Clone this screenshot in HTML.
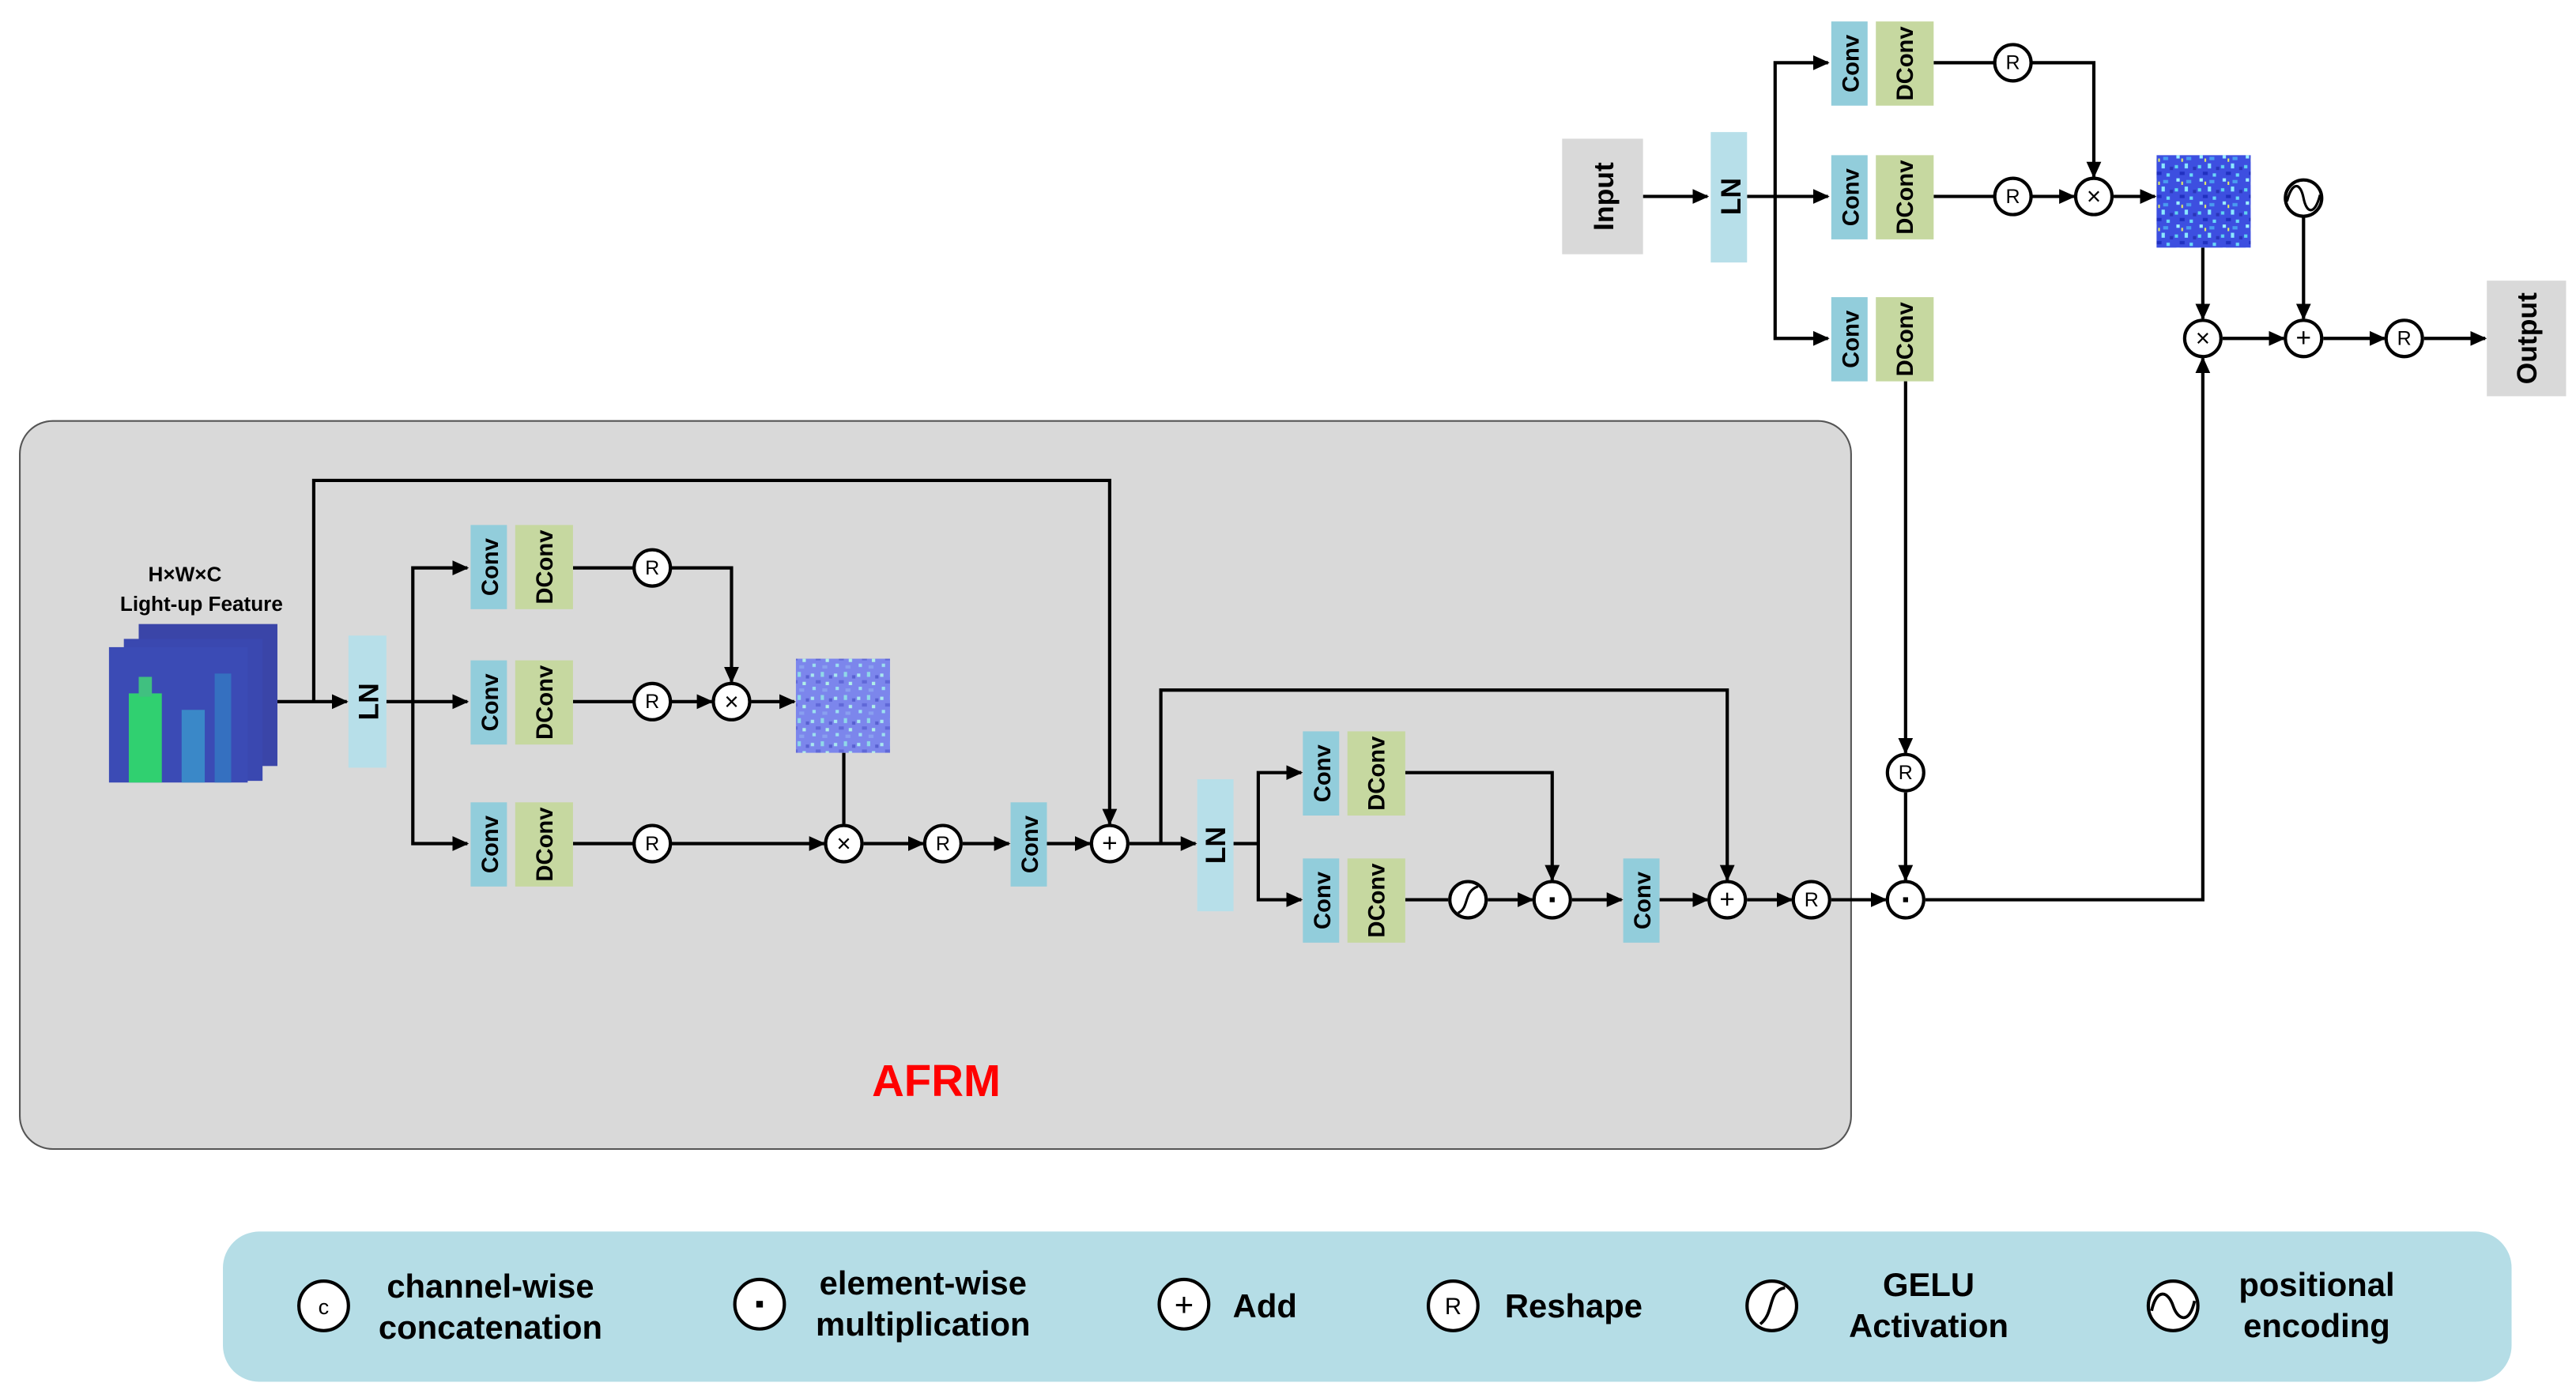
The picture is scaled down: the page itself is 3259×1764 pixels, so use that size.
<!DOCTYPE html>
<html><head><meta charset="utf-8"><style>
html,body{margin:0;padding:0;background:#fff;}
svg{display:block;}
text{font-family:"Liberation Sans",sans-serif;}
.b{font-weight:bold;}
</style></head><body>
<svg width="3259" height="1764" viewBox="0 0 1560 844.4" preserveAspectRatio="none" xmlns="http://www.w3.org/2000/svg">
<defs>
<marker id="a" markerWidth="10" markerHeight="10" refX="9" refY="5" orient="auto" markerUnits="userSpaceOnUse">
<path d="M0,0.5 L10,5 L0,9.5 Z" fill="#000"/></marker>
<pattern id="n1" width="14" height="14" patternUnits="userSpaceOnUse">
<rect width="14" height="14" fill="#3d4fe0"/>
<rect x="1" y="2" width="2" height="2" fill="#5fd3f0"/><rect x="7" y="1" width="2" height="3" fill="#8ae8ff"/>
<rect x="4" y="6" width="3" height="2" fill="#2030c0"/><rect x="10" y="7" width="2" height="2" fill="#6ad8f8"/>
<rect x="2" y="10" width="2" height="2" fill="#9bf0ff"/><rect x="8" y="11" width="3" height="2" fill="#4a9cf0"/>
<rect x="12" y="3" width="2" height="2" fill="#2a35b8"/><rect x="5" y="12" width="1" height="2" fill="#e8f060"/>
</pattern>
<pattern id="n2" width="14" height="14" patternUnits="userSpaceOnUse">
<rect width="14" height="14" fill="#7c86ec"/>
<rect x="1" y="2" width="2" height="2" fill="#a8e8f0"/><rect x="7" y="1" width="2" height="3" fill="#8fd8e8"/>
<rect x="4" y="6" width="3" height="2" fill="#6068d8"/><rect x="10" y="7" width="2" height="2" fill="#b0f0e8"/>
<rect x="2" y="10" width="2" height="2" fill="#9ce0f0"/><rect x="8" y="11" width="3" height="2" fill="#8aa0f0"/>
<rect x="12" y="3" width="2" height="2" fill="#5860d0"/>
</pattern>
<g id="cv"><rect x="0" y="0" width="22" height="51" fill="#92cddb"/><text transform="translate(16.5,25.5) rotate(-90)" text-anchor="middle" font-size="14" class="b">Conv</text></g>
<g id="dc"><rect x="0" y="0" width="35" height="51" fill="#c6d8a0"/><text transform="translate(22.5,25.5) rotate(-90)" text-anchor="middle" font-size="14" class="b">DConv</text></g>
</defs>

<rect x="12" y="255" width="1109" height="441" rx="20" fill="#d9d9d9" stroke="#555" stroke-width="1"/>
<text x="567" y="664" text-anchor="middle" font-size="27" class="b" fill="#ff0000">AFRM</text>

<g stroke="#000" stroke-width="2" fill="none">
<line x1="995" y1="119" x2="1034" y2="119" marker-end="url(#a)"/>
<line x1="1058" y1="119" x2="1107" y2="119" marker-end="url(#a)"/>
<polyline points="1075,119 1075,38 1107,38" marker-end="url(#a)"/>
<polyline points="1075,119 1075,205 1107,205" marker-end="url(#a)"/>
<line x1="1171" y1="38" x2="1208" y2="38"/>
<polyline points="1230,38 1268,38 1268,107" marker-end="url(#a)"/>
<line x1="1171" y1="119" x2="1208" y2="119"/>
<line x1="1230" y1="119" x2="1256" y2="119" marker-end="url(#a)"/>
<line x1="1280" y1="119" x2="1305" y2="119" marker-end="url(#a)"/>
<line x1="1334" y1="150" x2="1334" y2="193" marker-end="url(#a)"/>
<line x1="1395" y1="131" x2="1395" y2="193" marker-end="url(#a)"/>
<line x1="1346" y1="205" x2="1383" y2="205" marker-end="url(#a)"/>
<line x1="1407" y1="205" x2="1444" y2="205" marker-end="url(#a)"/>
<line x1="1468" y1="205" x2="1505" y2="205" marker-end="url(#a)"/>
<line x1="1154" y1="230" x2="1154" y2="456" marker-end="url(#a)"/>
<line x1="1154" y1="480" x2="1154" y2="533" marker-end="url(#a)"/>
<polyline points="1166,545 1334,545 1334,217" marker-end="url(#a)"/>

<line x1="168" y1="425" x2="210" y2="425" marker-end="url(#a)"/>
<polyline points="190,425 190,291 672,291 672,499" marker-end="url(#a)"/>
<line x1="234" y1="425" x2="283" y2="425" marker-end="url(#a)"/>
<polyline points="250,425 250,344 283,344" marker-end="url(#a)"/>
<polyline points="250,425 250,511 283,511" marker-end="url(#a)"/>
<line x1="347" y1="344" x2="384" y2="344"/>
<polyline points="406,344 443,344 443,413" marker-end="url(#a)"/>
<line x1="347" y1="425" x2="384" y2="425"/>
<line x1="406" y1="425" x2="431" y2="425" marker-end="url(#a)"/>
<line x1="455" y1="425" x2="481" y2="425" marker-end="url(#a)"/>
<line x1="347" y1="511" x2="384" y2="511"/>
<line x1="406" y1="511" x2="499" y2="511" marker-end="url(#a)"/>
<line x1="511" y1="456" x2="511" y2="499"/>
<line x1="523" y1="511" x2="559" y2="511" marker-end="url(#a)"/>
<line x1="583" y1="511" x2="611" y2="511" marker-end="url(#a)"/>
<line x1="634" y1="511" x2="660" y2="511" marker-end="url(#a)"/>
<line x1="684" y1="511" x2="724" y2="511" marker-end="url(#a)"/>
<polyline points="703,511 703,418 1046,418 1046,533" marker-end="url(#a)"/>
<polyline points="747,511 762,511 762,468 788,468" marker-end="url(#a)"/>
<polyline points="762,511 762,545 788,545" marker-end="url(#a)"/>
<polyline points="851,468 940,468 940,533" marker-end="url(#a)"/>
<line x1="851" y1="545" x2="877" y2="545"/>
<line x1="901" y1="545" x2="928" y2="545" marker-end="url(#a)"/>
<line x1="952" y1="545" x2="982" y2="545" marker-end="url(#a)"/>
<line x1="1005" y1="545" x2="1034" y2="545" marker-end="url(#a)"/>
<line x1="1058" y1="545" x2="1085" y2="545" marker-end="url(#a)"/>
<line x1="1109" y1="545" x2="1142" y2="545" marker-end="url(#a)"/>
</g>

<rect x="946" y="84" width="49" height="70" fill="#d9d9d9"/>
<text transform="translate(977,119) rotate(-90)" text-anchor="middle" font-size="17" class="b">Input</text>
<rect x="1036" y="80" width="22" height="79" fill="#b7dfe9"/>
<text transform="translate(1054,119) rotate(-90)" text-anchor="middle" font-size="17" class="b">LN</text>
<use href="#cv" x="1109" y="13"/><use href="#dc" x="1136" y="13"/>
<use href="#cv" x="1109" y="94"/><use href="#dc" x="1136" y="94"/>
<use href="#cv" x="1109" y="180"/><use href="#dc" x="1136" y="180"/>
<rect x="1306" y="94" width="57" height="56" fill="url(#n1)"/>
<rect x="1506" y="170" width="48" height="70" fill="#d9d9d9"/>
<text transform="translate(1536,205) rotate(-90)" text-anchor="middle" font-size="17" class="b">Output</text>

<text x="112" y="352" text-anchor="middle" font-size="12.5" class="b">H×W×C</text>
<text x="122" y="370" text-anchor="middle" font-size="12.5" class="b">Light-up Feature</text>
<rect x="84" y="378" width="84" height="86" fill="#3a45a8"/>
<rect x="75" y="387" width="84" height="86" fill="#3a48b0"/>
<rect x="66" y="392" width="84" height="82" fill="#3b4bb5"/>
<rect x="78" y="420" width="20" height="54" fill="#30d070"/>
<rect x="84" y="410" width="8" height="12" fill="#40c080"/>
<rect x="110" y="430" width="14" height="44" fill="#3a88c8"/>
<rect x="130" y="408" width="10" height="66" fill="#3570c0"/>
<rect x="211" y="385" width="23" height="80" fill="#b7dfe9"/>
<text transform="translate(229,425) rotate(-90)" text-anchor="middle" font-size="17" class="b">LN</text>
<use href="#cv" x="285" y="318"/><use href="#dc" x="312" y="318"/>
<use href="#cv" x="285" y="400"/><use href="#dc" x="312" y="400"/>
<use href="#cv" x="285" y="486"/><use href="#dc" x="312" y="486"/>
<rect x="482" y="399" width="57" height="57" fill="url(#n2)"/>
<use href="#cv" x="612" y="486"/>
<rect x="725" y="472" width="22" height="80" fill="#b7dfe9"/>
<text transform="translate(742,512) rotate(-90)" text-anchor="middle" font-size="17" class="b">LN</text>
<use href="#cv" x="789" y="443"/><use href="#dc" x="816" y="443"/>
<use href="#cv" x="789" y="520"/><use href="#dc" x="816" y="520"/>
<use href="#cv" x="983" y="520"/>

<g stroke="#000" stroke-width="2" fill="#fff">
<circle cx="1219" cy="38" r="11"/><circle cx="1219" cy="119" r="11"/><circle cx="1268" cy="119" r="11"/>
<circle cx="1395" cy="120" r="11"/><circle cx="1334" cy="205" r="11"/><circle cx="1395" cy="205" r="11"/><circle cx="1456" cy="205" r="11"/>
<circle cx="1154" cy="468" r="11"/><circle cx="1154" cy="545" r="11"/>
<circle cx="395" cy="344" r="11"/><circle cx="395" cy="425" r="11"/><circle cx="443" cy="425" r="11"/>
<circle cx="395" cy="511" r="11"/><circle cx="511" cy="511" r="11"/><circle cx="571" cy="511" r="11"/><circle cx="672" cy="511" r="11"/>
<circle cx="889" cy="545" r="11"/><circle cx="940" cy="545" r="11"/><circle cx="1046" cy="545" r="11"/><circle cx="1097" cy="545" r="11"/>
</g>
<g font-size="12" text-anchor="middle">
<text x="1219" y="42">R</text><text x="1219" y="123">R</text><text x="1268" y="124" font-size="15">×</text>
<text x="1334" y="210" font-size="15">×</text><text x="1395" y="210" font-size="16">+</text><text x="1456" y="209">R</text>
<text x="1154" y="472">R</text>
<text x="395" y="348">R</text><text x="395" y="429">R</text><text x="443" y="430" font-size="15">×</text>
<text x="395" y="515">R</text><text x="511" y="516" font-size="15">×</text><text x="571" y="515">R</text><text x="672" y="516" font-size="16">+</text>
<text x="1046" y="550" font-size="16">+</text><text x="1097" y="549">R</text>
</g>
<g fill="#000"><rect x="938.5" y="543.5" width="3" height="3"/><rect x="1152.5" y="543.5" width="3" height="3"/></g>
<g stroke="#000" stroke-width="1.5" fill="none">
<path d="M1385,122 C1388,110 1393,110 1395,120 C1397,130 1402,130 1405,118"/>
<path d="M883,553 C890,550 886,540 895,537"/>
</g>

<rect x="135" y="746" width="1386" height="91" rx="22" fill="#b5dde6"/>
<g stroke="#000" stroke-width="2" fill="#fff">
<circle cx="196" cy="791" r="15"/><circle cx="460" cy="790" r="15"/><circle cx="717" cy="790" r="15"/>
<circle cx="880" cy="791" r="15"/><circle cx="1073" cy="791" r="15"/><circle cx="1316" cy="791" r="15"/>
</g>
<g text-anchor="middle">
<text x="196" y="796" font-size="13">c</text>
<rect x="458" y="788" width="4" height="4" fill="#000"/>
<text x="717" y="797" font-size="20">+</text>
<text x="880" y="796" font-size="14">R</text>
</g>
<g stroke="#000" stroke-width="1.8" fill="none">
<path d="M1066,802 C1075,795 1070,782 1081,780"/>
<path d="M1303,794 C1306,780 1313,782 1316,791 C1319,800 1326,802 1329,788"/>
</g>
<g font-size="20" class="b" text-anchor="middle">
<text x="297" y="786">channel-wise</text><text x="297" y="811">concatenation</text>
<text x="559" y="784">element-wise</text><text x="559" y="809">multiplication</text>
<text x="766" y="798">Add</text>
<text x="953" y="798">Reshape</text>
<text x="1168" y="785">GELU</text><text x="1168" y="810">Activation</text>
<text x="1403" y="785">positional</text><text x="1403" y="810">encoding</text>
</g>
</svg>
</body></html>
